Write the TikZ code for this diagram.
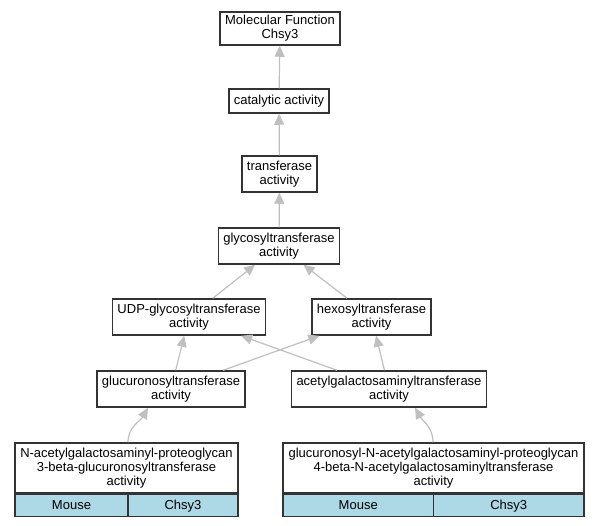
\documentclass[tikz,border=0pt]{standalone}
\usepackage{fontspec}
\setmainfont{Liberation Sans}
\usetikzlibrary{arrows.meta}
\definecolor{lightblue}{HTML}{ADD8E6}

\begin{document}
\begin{tikzpicture}[x=1pt,y=1pt,
  term/.style={draw=black!80,line width=1.5pt,fill=white,align=center,inner xsep=5pt,inner ysep=2pt,
    minimum height=#1,font=\fontsize{13}{14}\selectfont},
  term/.default=36pt,
  cell/.style={draw=black!80,line width=1.5pt,fill=lightblue,minimum height=22pt,
    inner sep=0pt,text height=9.5pt,text depth=2.5pt,font=\fontsize{13}{14}\selectfont},
  isa/.style={draw=black!25,line width=1.2pt,-{Triangle[length=11pt,width=10pt]}}]
\useasboundingbox (0,0) rectangle (599,-525);
% terms
\node[term=33pt] (mf) at (280,-28.5) {Molecular Function\\Chsy3};
\node[term=24pt] (cat) at (279,-101) {catalytic activity};
\node[term] (tra) at (279.5,-174) {transferase\\activity};
\node[term] (gly) at (279,-246) {glycosyltransferase\\activity};
\node[term] (udp) at (189,-317) {UDP-glycosyltransferase\\activity};
\node[term] (hex) at (371.5,-317) {hexosyltransferase\\activity};
\node[term] (glc) at (171,-389) {glucuronosyltransferase\\activity};
\node[term] (agt) at (389,-389) {acetylgalactosaminyltransferase\\activity};
% annotated leaves
\node[term=50pt,minimum width=223pt] (nag) at (126.5,-468)
  {N-acetylgalactosaminyl-proteoglycan\\3-beta-glucuronosyltransferase\\activity};
\node[cell,minimum width=113pt,anchor=north west] (nagm) at (nag.south west) {Mouse};
\node[cell,minimum width=110pt,anchor=north east] (nagc) at (nag.south east) {Chsy3};
\node[term=50pt,minimum width=301pt] (gag) at (433.5,-468)
  {glucuronosyl-N-acetylgalactosaminyl-proteoglycan\\4-beta-N-acetylgalactosaminyltransferase\\activity};
\node[cell,minimum width=150.5pt,anchor=north west] (gagm) at (gag.south west) {Mouse};
\node[cell,minimum width=150.5pt,anchor=north east] (gagc) at (gag.south east) {Chsy3};
% is_a edges
\draw[isa] (cat) -- (mf);
\draw[isa] (tra) -- (cat);
\draw[isa] (gly) -- (tra);
\draw[isa] (udp) -- (gly);
\draw[isa] (hex) -- (gly);
\draw[isa] (glc) -- (udp);
\draw[isa] (glc) -- (hex);
\draw[isa] (agt) -- (udp);
\draw[isa] (agt) -- (hex);
\draw[isa] ([xshift=1.5pt]nag.north) to[out=90,in=-120] ([xshift=-23pt]glc.south);
\draw[isa] ([xshift=-0.5pt]gag.north) to[out=90,in=-60] ([xshift=26pt]agt.south);
\end{tikzpicture}
\end{document}
